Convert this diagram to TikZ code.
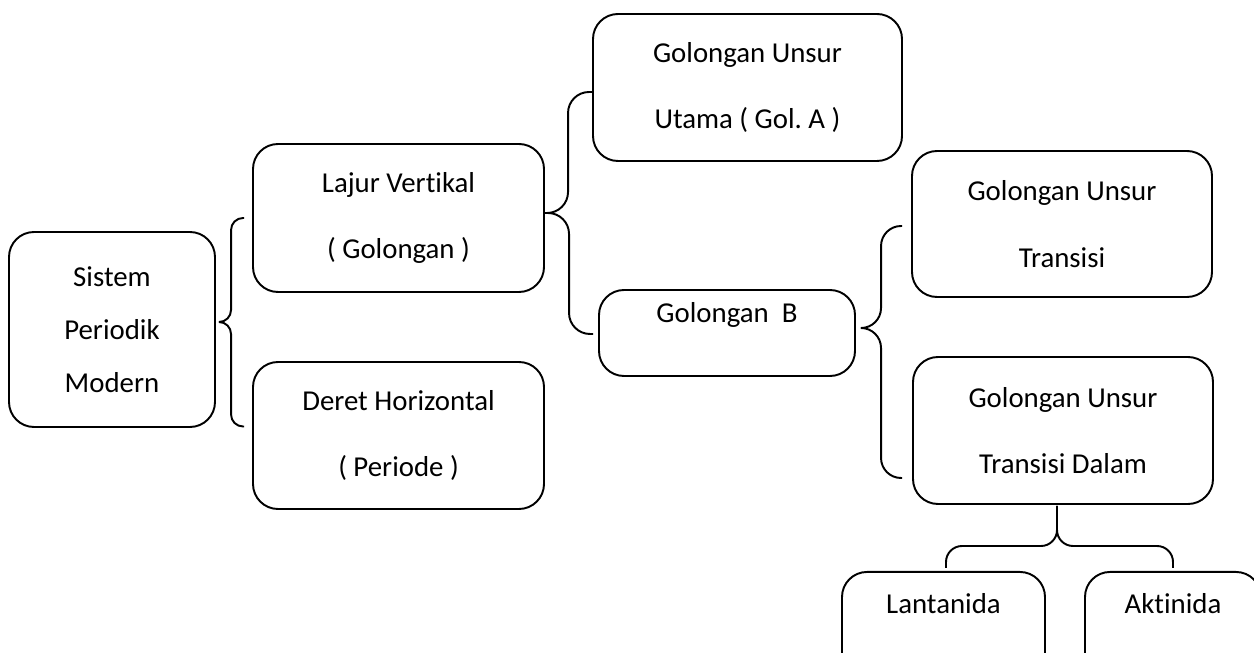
\documentclass[tikz,border=0pt]{standalone}
\usepackage{fontspec}
\setmainfont{Carlito}[Ligatures=NoCommon]
\usepackage{tikz}
\usetikzlibrary{calc}
\frenchspacing

\begin{document}
\begin{tikzpicture}[box/.style={draw=black, line width=1.1pt, rounded corners=0.5cm, align=center, inner sep=0pt, font=\fontsize{16.4}{38}\selectfont},
		kurung/.style={draw=black, line width=1.1pt, rounded corners=#1}]
		\useasboundingbox (0,0) rectangle (25.08,-13.06);
		\clip (0,0) rectangle (25.08,-13.06);
		\node[box, minimum width=4.12cm, minimum height=3.9cm, font=\fontsize{16.4}{30}\selectfont] (sistem) at (2.24,-6.59) {Sistem\\Periodik\\Modern};
		\node[box, minimum width=5.82cm, minimum height=2.96cm] (lajur) at (7.97,-4.36) {Lajur Vertikal\\( Golongan )};
		\node[box, minimum width=5.82cm, minimum height=2.94cm] (deret) at (7.97,-8.71) {Deret Horizontal\\( Periode )};
		\node[box, minimum width=6.18cm, minimum height=2.94cm] (utama) at (14.95,-1.75) {Golongan Unsur\\Utama ( Gol. A )};
		\node[box, minimum width=5.12cm, text height=0.42cm, text depth=0.82cm, inner ysep=0.24cm] (golb) at (14.54,-6.66) {Golongan\ \ B};
		\node[box, minimum width=6cm, minimum height=2.92cm] (transisi) at (21.24,-4.48) {Golongan Unsur\\Transisi};
		\node[box, minimum width=6cm, minimum height=2.94cm] (dalam) at (21.26,-8.61) {Golongan Unsur\\Transisi Dalam};
		\node[box, anchor=north, minimum width=4.06cm, text height=0.4cm, text depth=1.3cm, inner ysep=0.44cm] (lantanida) at (18.87,-11.42) {Lantanida};
		\node[box, anchor=north, minimum width=3.52cm, text height=0.4cm, text depth=1.3cm, inner ysep=0.44cm] (aktinida) at (23.46,-11.42) {Aktinida};
		
		% kurung kurawal
		\coordinate (k1) at ($(sistem.east)+(0.08,0.15)$);
		\coordinate (k1a) at ($(lajur.west)+(-0.16,0)$);
		\coordinate (k1b) at ($(deret.west)+(-0.16,0.18)$);
		\draw[kurung=0.24cm] (k1) -| ($(k1a)+(-0.26,0)$) -- (k1a);
		\draw[kurung=0.24cm] (k1) -| ($(k1b)+(-0.26,0)$) -- (k1b);
		
		\coordinate (k2) at ($(lajur.east)+(0,0.1)$);
		\coordinate (k2a) at ($(utama.west)+(0,-0.09)$);
		\coordinate (k2b) at ($(golb.west)+(-0.1,-0.02)$);
		\draw[kurung=0.42cm] (k2) -| ($(k2a)+(-0.48,0)$) -- (k2a);
		\draw[kurung=0.42cm] (k2) -| ($(k2b)+(-0.48,0)$) -- (k2b);
		
		\coordinate (k3) at ($(golb.east)+(0.1,0.1)$);
		\coordinate (k3a) at ($(transisi.west)+(-0.18,-0.04)$);
		\coordinate (k3b) at ($(dalam.west)+(-0.2,-0.95)$);
		\draw[kurung=0.4cm] (k3) -| ($(k3a)+(-0.42,0)$) -- (k3a);
		\draw[kurung=0.4cm] (k3) -| ($(k3b)+(-0.42,0)$) -- (k3b);
		
		\coordinate (k4) at ($(dalam.south)+(-0.12,-0.02)$);
		\coordinate (k4a) at ($(lantanida.north)+(0.05,0.06)$);
		\coordinate (k4b) at ($(aktinida.north)+(0,0.06)$);
		\draw[kurung=0.32cm] (k4) |- ($(k4a)+(0,0.44)$) -- (k4a);
		\draw[kurung=0.32cm] (k4) |- ($(k4b)+(0,0.44)$) -- (k4b);
		
	\end{tikzpicture}
\end{document}
